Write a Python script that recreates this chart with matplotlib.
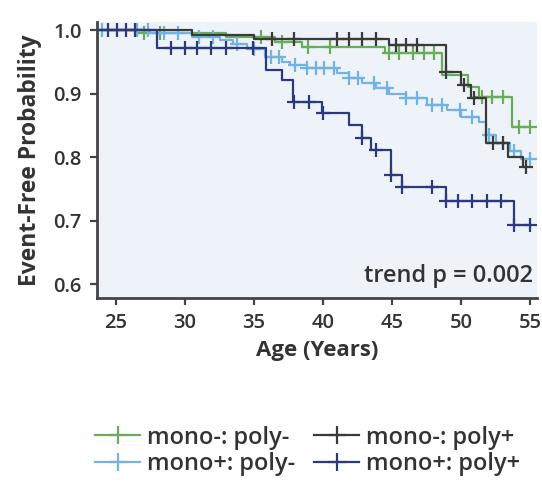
import numpy as np
import matplotlib
matplotlib.use("Agg")
import matplotlib.pyplot as plt

plt.rcParams['font.family'] = ['Open Sans', 'DejaVu Sans']

# step curves: time of each step and event-free probability after it
green_t = [23.6, 27.0, 33.0, 36.5, 38.5, 44.5, 48.6, 50.5, 51.3, 53.7]
green_s = [1.0, 0.995, 0.989, 0.981, 0.973, 0.964, 0.930, 0.910, 0.895, 0.848]
green_c = [27.0, 28.2, 35.5, 37.0, 38.9, 40.5, 44.8, 45.5, 46.5, 47.3, 48.0,
           51.5, 52.2, 53.0, 54.2, 55.0]

black_t = [23.6, 30.5, 35.0, 44.8, 48.9, 50.0, 50.7, 51.8, 53.4, 54.5]
black_s = [1.0, 0.993, 0.986, 0.976, 0.934, 0.913, 0.893, 0.822, 0.800, 0.784]
black_c = [36.3, 37.9, 41.0, 41.9, 42.8, 43.8, 45.3, 46.0, 46.8, 48.9, 50.2,
           50.9, 52.3, 53.0, 54.7]

lblue_t = [23.6, 27.5, 30.5, 32.5, 33.5, 34.5, 35.8, 37.0, 37.6, 38.8, 41.0,
           41.9, 42.8, 43.8, 44.8, 46.0, 47.5, 49.0, 50.0, 51.3, 51.8, 52.5,
           53.5, 54.3]
lblue_s = [1.0, 0.995, 0.990, 0.985, 0.978, 0.970, 0.958, 0.950, 0.945, 0.940,
           0.932, 0.925, 0.917, 0.909, 0.900, 0.893, 0.882, 0.874, 0.863, 0.855,
           0.835, 0.822, 0.810, 0.797]
lblue_c = [24.0, 26.5, 27.3, 28.5, 29.5, 31.0, 32.0, 33.8, 35.0, 36.2, 36.8,
           38.0, 38.8, 39.5, 40.1, 40.8, 41.9, 42.5, 43.7, 44.6, 46.0, 46.8,
           47.9, 48.6, 49.9, 50.8, 52.0, 53.0, 53.8, 55.0]

navy_t = [23.6, 28.0, 35.9, 37.0, 37.8, 39.9, 41.9, 42.8, 43.5, 44.9, 45.7,
          48.9, 53.8]
navy_s = [1.0, 0.972, 0.937, 0.921, 0.887, 0.869, 0.850, 0.830, 0.811, 0.772,
          0.753, 0.731, 0.693]
navy_c = [24.4, 25.1, 25.7, 26.4, 29.0, 30.0, 30.9, 31.9, 33.0, 34.9, 37.9,
          39.0, 40.0, 42.8, 43.8, 44.9, 45.7, 47.9, 48.9, 49.8, 50.8, 51.9,
          52.9, 53.8, 55.0]

groups = [
    ("mono-: poly-", green_t, green_s, green_c, "#6aab5c"),
    ("mono+: poly-", lblue_t, lblue_s, lblue_c, "#72b2e4"),
    ("mono-: poly+", black_t, black_s, black_c, "#3a3a3a"),
    ("mono+: poly+", navy_t, navy_s, navy_c, "#2c3a7c"),
]

fig = plt.figure(figsize=(5.42, 4.88), dpi=100)
ax = fig.add_axes([0.179, 0.389, 0.812, 0.566])
ax.set_facecolor("#eef3f9")

handles = []
for name, t, s, c, col in groups:
    t = np.array(t)
    s = np.array(s)
    end = max(c)
    ax.step(np.append(t, end), np.append(s, s[-1]), where="post",
            color=col, lw=1.6)
    idx = np.searchsorted(t, np.array(c), side="right") - 1
    ax.plot(c, s[idx], ls="none", marker="+", ms=10, mew=1.6, color=col)
    h, = ax.plot([], [], color=col, lw=1.6, marker="+", ms=13, mew=1.6,
                 label=name)
    handles.append(h)

ax.set_xlim(23.63, 55.5)
ax.set_ylim(0.578, 1.013)
ax.set_xticks(np.arange(25, 56, 5))
ax.set_yticks([0.6, 0.7, 0.8, 0.9, 1.0])
ax.set_yticklabels(["0.6", "0.7", "0.8", "0.9", "1.0"])
ax.tick_params(labelsize=14.5, length=5, width=1.6, color="#444444",
               labelcolor="#333333", pad=6)
for lab in ax.get_xticklabels() + ax.get_yticklabels():
    lab.set_fontweight("semibold")
for side in ["top", "right"]:
    ax.spines[side].set_visible(False)
for side in ["left", "bottom"]:
    ax.spines[side].set_linewidth(2)
    ax.spines[side].set_color("#444444")

ax.set_xlabel("Age (Years)", fontsize=16, fontweight="bold", color="#333333",
              labelpad=5)
ax.set_ylabel("Event-Free Probability", fontsize=16.5, fontweight="bold",
              color="#333333", labelpad=8)
ax.text(0.99, 0.08, "trend p = 0.002", transform=ax.transAxes, ha="right",
        va="center", fontsize=17, fontweight="semibold", color="#333333")

leg = fig.legend(handles=handles, ncol=2, loc="center",
                 bbox_to_anchor=(0.568, 0.076), frameon=False, fontsize=17,
                 handlelength=1.9, columnspacing=0.8, labelspacing=0.1,
                 handletextpad=0.3, labelcolor="#333333")
for txt in leg.get_texts():
    txt.set_fontweight("semibold")

fig.savefig("out.png", dpi=100)
